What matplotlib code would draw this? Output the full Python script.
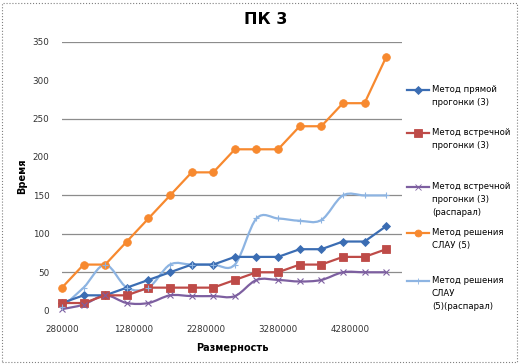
import numpy as np
import matplotlib.pyplot as plt
from matplotlib.path import Path
from matplotlib.patches import PathPatch, Rectangle
from matplotlib.lines import Line2D

# размерность задачи
sizes = [280000, 580000, 880000, 1180000, 1480000, 1780000, 2080000, 2380000,
         2680000, 2980000, 3280000, 3580000, 3880000, 4180000, 4480000, 4780000]

# время работы методов
direct = [10, 20, 20, 30, 40, 50, 60, 60, 70, 70, 70, 80, 80, 90, 90, 110]
counter = [10, 10, 20, 20, 30, 30, 30, 30, 40, 50, 50, 60, 60, 70, 70, 80]
counter_par = [2, 8, 20, 10, 10, 20, 19, 19, 19, 40, 40, 38, 40, 50, 50, 50]
slau = [30, 60, 60, 90, 120, 150, 180, 180, 210, 210, 210, 240, 240, 270, 270, 330]
slau_par = [5, 30, 60, 30, 30, 60, 60, 60, 60, 120, 120, 117, 118, 150, 150, 150]

labels = ["Метод прямой\nпрогонки (3)",
          "Метод встречной\nпрогонки (3)",
          "Метод встречной\nпрогонки (3)\n(распарал)",
          "Метод решения\nСЛАУ (5)",
          "Метод решения\nСЛАУ\n(5)(распарал)"]

y_ticks = [0, 50, 100, 150, 200, 250, 300, 350]
x_ticks = [280000, 1280000, 2280000, 3280000, 4280000]
grid_levels = [50, 100, 150, 250, 350]


def smooth_path(x, y):
    """Сглаженная линия как в Excel (кривые Безье)"""
    P = np.column_stack([x, y]).astype(float)
    n = len(P)
    verts = [P[0]]
    codes = [Path.MOVETO]
    for i in range(n - 1):
        p0 = P[i - 1] if i > 0 else P[i]
        p3 = P[i + 2] if i + 2 < n else P[i + 1]
        c1 = P[i] + (P[i + 1] - p0) / 6
        c2 = P[i + 1] - (p3 - P[i]) / 6
        verts += [c1, c2, P[i + 1]]
        codes += [Path.CURVE4] * 3
    return Path(verts, codes)


fig = plt.figure(figsize=(5.21, 3.64), dpi=100)
ax = fig.add_axes([62 / 521, 1 - 310.7 / 364, 340 / 521, 269 / 364])

series = [
    (direct, '#3B6DB3', 'D', 4.5, False),
    (counter, '#BE4B48', 's', 6, False),
    (counter_par, '#7D5FA0', 'x', 4.5, True),
    (slau, '#F7892F', 'o', 5.5, False),
    (slau_par, '#8DB4E2', '+', 5, True),
]

for vals, col, mk, ms, smooth in series:
    if smooth:
        ax.add_patch(PathPatch(smooth_path(sizes, vals), fc='none', ec=col,
                               lw=1.6, clip_on=False, zorder=3))
        ax.plot(sizes, vals, ls='none', marker=mk, ms=ms, color=col,
                mew=0.8, clip_on=False, zorder=4)
    else:
        ax.plot(sizes, vals, color=col, lw=1.6, marker=mk, ms=ms,
                mec=col, mew=0.6, clip_on=False, zorder=4)

for g in grid_levels:
    ax.axhline(g, color='#8C8C8C', lw=0.9, zorder=1)

ax.set_xlim(280000, 5000000)
ax.set_ylim(0, 350)
ax.set_yticks(y_ticks)
ax.set_xticks(x_ticks)
ax.set_xticklabels([str(v) for v in x_ticks])
ax.tick_params(axis='both', length=0, labelsize=6.3, colors='#333333')
ax.tick_params(axis='y', pad=9)
ax.tick_params(axis='x', pad=10)
for sp in ax.spines.values():
    sp.set_visible(False)

ax.set_xlabel("Размерность", fontsize=7, fontweight='bold', labelpad=7)
ax.set_ylabel("Время", fontsize=7, fontweight='bold', labelpad=4)

fig.text(266 / 521, 1 - 20 / 364, "ПК 3", fontsize=11.5, fontweight='bold',
         ha='center', va='center')

# легенда справа
leg_y = [90, 133, 187, 233, 281]
for (vals, col, mk, ms, smooth), lab, yy in zip(series, labels, leg_y):
    yf = 1 - yy / 364
    fig.add_artist(Line2D([407 / 521, 429 / 521], [yf, yf], color=col, lw=1.6,
                          transform=fig.transFigure))
    fig.add_artist(Line2D([418 / 521], [yf], color=col, marker=mk, ms=ms * 0.9,
                          mew=0.6, transform=fig.transFigure))
    fig.text(432 / 521, 1 - (yy - 5) / 364, lab, fontsize=6.1, va='top',
             ha='left', linespacing=1.55)

# рамка диаграммы
fig.add_artist(Rectangle((2 / 521, 2 / 364), 515 / 521, 359 / 364,
                         transform=fig.transFigure, fill=False,
                         ec='#808080', lw=0.8, ls=':'))

fig.savefig("out.png", dpi=100)
